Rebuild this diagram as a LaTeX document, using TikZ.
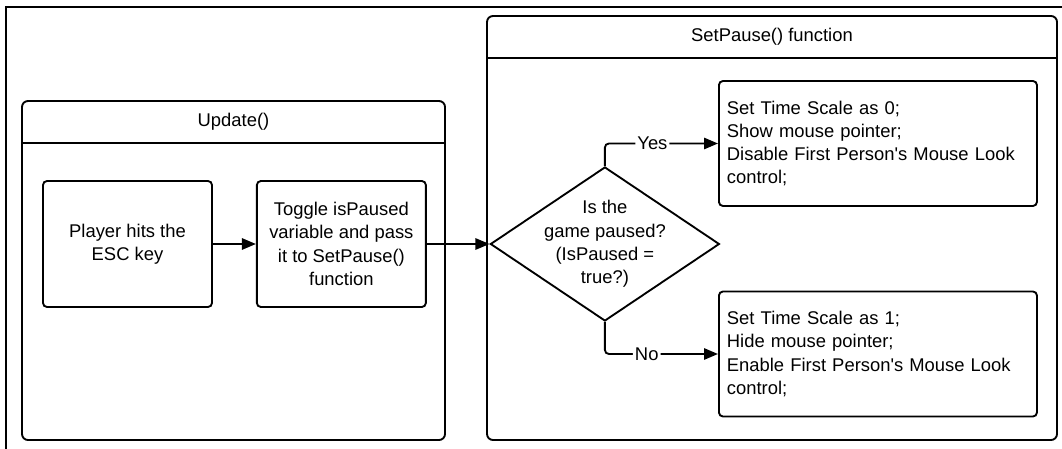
\documentclass[tikz,border=0pt]{standalone}
\usepackage{fontspec}
\setmainfont{Liberation Sans}
\usetikzlibrary{arrows.meta,positioning,shapes.geometric}
\tikzset{
  pane/.style={draw, line width=1.4pt, rounded corners=4.5pt, inner sep=0pt},
  stepbox/.style={draw, line width=1.4pt, rounded corners=3pt, align=center,
                  minimum width=126.75pt, minimum height=94.5pt, inner sep=4pt},
  notebox/.style={draw, line width=1.4pt, rounded corners=3pt, align=left,
                  text width=226.5pt, minimum height=93.75pt, inner sep=6pt},
  decision/.style={diamond, draw, line width=1.4pt, align=center, shape aspect=1.5,
                   minimum width=171.75pt, minimum height=115.5pt, inner sep=-5pt},
  panetitle/.style={inner sep=0pt},
  arrow/.style={-{Triangle[length=10.5pt,width=8.5pt]}, line width=1.4pt},
  branch/.style={fill=white, inner sep=1.5pt}
}

\begin{document}
\begin{tikzpicture}[x=0.75pt, y=-0.75pt, font=\fontsize{13.8}{17.4}\selectfont]
\useasboundingbox (0,0) rectangle (1062,449);
% outer frame, cut off on the right and at the bottom
\draw[line width=1.4pt] (6,470) -- (6,7) -- (1080,7);
% containers
\node[pane, minimum width=317.25pt, minimum height=254.25pt] (update) at (233.5,270.5) {};
\node[pane, minimum width=427.5pt, minimum height=318pt] (setpause) at (772,228) {};
\draw[line width=1.4pt] ([yshift=-32.25pt]update.north west) -- ([yshift=-32.25pt]update.north east);
\draw[line width=1.4pt] ([yshift=-32.25pt]setpause.north west) -- ([yshift=-32.25pt]setpause.north east);
\node[panetitle, below=16.1pt of update.north, anchor=center] (updateTitle) {Update()};
\node[panetitle, below=16.1pt of setpause.north, anchor=center] (setpauseTitle) {SetPause() function};
% steps
\node[stepbox] (hit) at (127.5,244) {Player hits the\\ESC key};
\node[stepbox, right=32.25pt of hit] (toggle) {Toggle isPaused\\variable and pass\\it to SetPause()\\function};
\node[decision, right=47pt of toggle] (paused) {Is the\\game paused?\\(IsPaused =\\true?)};
\node[notebox, anchor=west] (pauseOn) at (718,143.5) {Set Time Scale as 0;\\Show mouse pointer;\\Disable First Person\textquotesingle s Mouse Look\\control;};
\node[notebox, anchor=west] (pauseOff) at (718,354) {Set Time Scale as 1;\\Hide mouse pointer;\\Enable First Person\textquotesingle s Mouse Look\\control;};
\draw[arrow] (hit) -- (toggle);
\draw[arrow] (toggle) -- (paused);
\draw[arrow, rounded corners=3pt] (paused.north) |- node[branch, pos=0.71] (yesLbl) {Yes} (pauseOn.west);
\draw[arrow, rounded corners=3pt] (paused.south) |- node[branch, pos=0.685] (noLbl) {No} (pauseOff.west);
\end{tikzpicture}
\end{document}
